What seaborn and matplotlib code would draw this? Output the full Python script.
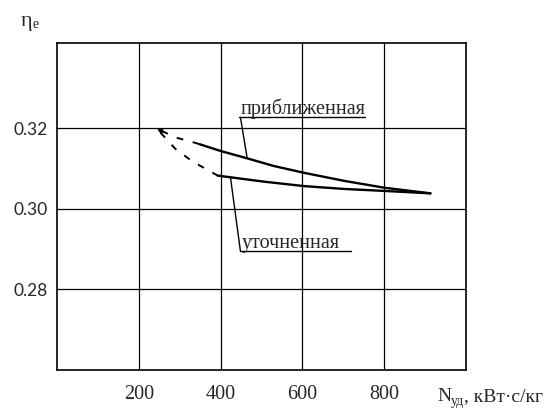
import matplotlib
matplotlib.use("Agg")
import matplotlib.pyplot as plt
import seaborn as sns
import pandas as pd

# Efficiency curves: approximate vs refined calculation
approx_x = [349, 401, 465, 530, 604, 702, 800, 913]
approx_y = [0.3160, 0.3143, 0.3125, 0.3106, 0.3089, 0.3069, 0.3052, 0.3038]
refined_x = [393, 506, 604, 700, 800, 913]
refined_y = [0.3082, 0.3067, 0.3056, 0.3049, 0.3044, 0.3038]

# Extrapolated (dashed) parts towards low specific power
approx_ext_x = [245, 293, 330, 349]
approx_ext_y = [0.3198, 0.3176, 0.3166, 0.3160]
refined_ext_x = [245, 289, 330, 365, 393]
refined_ext_y = [0.3198, 0.3149, 0.3118, 0.3098, 0.3082]

x_ticks = [200, 400, 600, 800]
y_ticks = [0.28, 0.30, 0.32]
y_tick_labels = ["0.28", "0.30", "0.32"]

sns.set_style("white")
plt.rcParams["font.family"] = ["Liberation Serif", "DejaVu Serif"]

W, H = 547, 412
fig = plt.figure(figsize=(W / 100, H / 100), dpi=100)
left, right, top, bottom = 57, 466, 42.5, 369.5
ax = fig.add_axes([left / W, 1 - bottom / H, (right - left) / W, (bottom - top) / H])

solid = pd.concat([
    pd.DataFrame({"N": approx_x, "eta": approx_y, "curve": "приближенная"}),
    pd.DataFrame({"N": refined_x, "eta": refined_y, "curve": "уточненная"}),
])
dashed = pd.concat([
    pd.DataFrame({"N": approx_ext_x, "eta": approx_ext_y, "curve": "a"}),
    pd.DataFrame({"N": refined_ext_x, "eta": refined_ext_y, "curve": "b"}),
])

for name, grp in solid.groupby("curve"):
    sns.lineplot(data=grp, x="N", y="eta", ax=ax, color="black", lw=1.7,
                 estimator=None, sort=False, legend=False)
for name, grp in dashed.groupby("curve"):
    sns.lineplot(data=grp, x="N", y="eta", ax=ax, color="black", lw=1.4,
                 estimator=None, sort=False, legend=False,
                 linestyle=(6, (3.5, 5)))

# small arrowhead where the dashed branches meet
ax.annotate("", xy=(approx_ext_x[0], approx_ext_y[0]),
            xytext=(approx_ext_x[0] + 14, approx_ext_y[0] - 0.0008),
            arrowprops=dict(arrowstyle="-|>", color="black", lw=1.0,
                            mutation_scale=7, shrinkA=0, shrinkB=0))

ax.set_xlim(0, 1000)
ax.set_ylim(0.26, 0.3413)
ax.set_xticks(x_ticks)
ax.set_xticklabels([str(v) for v in x_ticks], fontsize=14.5,
                   family=["Liberation Serif"])
ax.set_yticks(y_ticks)
ax.set_yticklabels(y_tick_labels, fontsize=12.5, family=["Lato", "DejaVu Sans"])
ax.tick_params(axis="x", length=0, pad=11)
ax.tick_params(axis="y", length=0, pad=7)
ax.grid(True, color="black", lw=0.9)
ax.set_axisbelow(True)
for s in ax.spines.values():
    s.set_color("black")
    s.set_linewidth(1.2)
ax.set_xlabel("")
ax.set_ylabel("")

# curve labels with underline and leader
ax.text(448.5, 0.3234, "приближенная", fontsize=14.5, va="baseline", ha="left")
ax.plot([444, 753], [0.3227, 0.3227], color="black", lw=1.0)
ax.plot([448.5, 465], [0.3227, 0.3125], color="black", lw=1.0)

ax.text(452.7, 0.2901, "уточненная", fontsize=14.5, va="baseline", ha="left")
ax.plot([448.5, 718], [0.2894, 0.2894], color="black", lw=1.0)
ax.plot([424, 448.5], [0.3079, 0.2894], color="black", lw=1.0)


def chain(parts, x0, y0):
    """Place text pieces one after another (pixel coords from top-left)."""
    fig.canvas.draw()
    r = fig.canvas.get_renderer()
    x = x0
    for txt, size, dy in parts:
        t = fig.text(x / W, 1 - (y0 + dy) / H, txt, fontsize=size,
                     va="baseline", ha="left")
        bb = t.get_window_extent(renderer=r)
        x += bb.width


chain([("η", 16, 0), ("е", 10, 2.5)], 21, 26)
chain([("N", 14, 0), ("уд", 10, 3.5), (", кВт·с/кг", 14, 0)], 437, 401)

fig.savefig("out.png", dpi=100)
